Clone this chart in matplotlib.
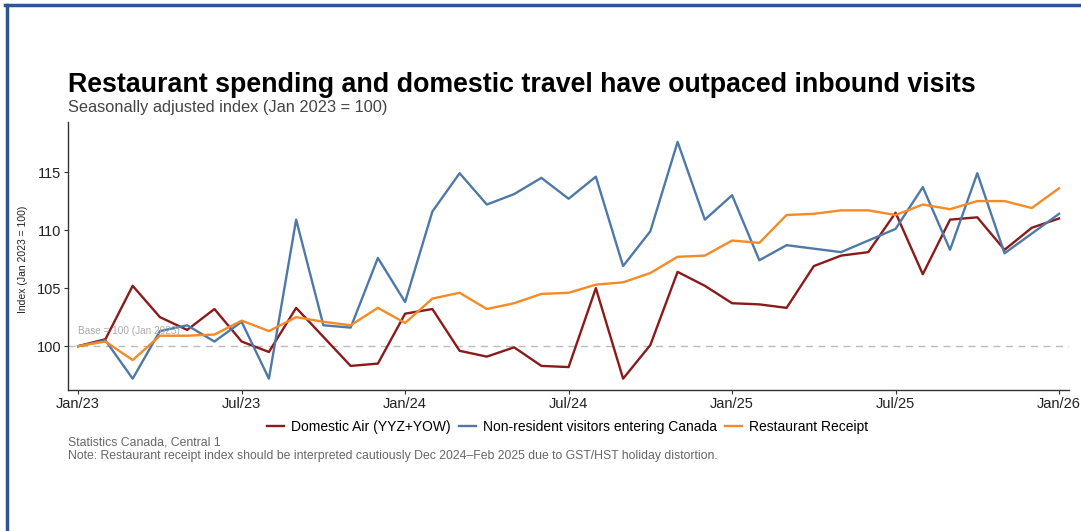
import numpy as np
import pandas as pd
import matplotlib
matplotlib.use("Agg")
import matplotlib.pyplot as plt
from matplotlib.lines import Line2D

plt.rcParams['font.family'] = ['Liberation Sans', 'DejaVu Sans']

# monthly, Jan 2023 .. Jan 2026
months = pd.date_range("2023-01-01", "2026-01-01", freq="MS")

domestic_air = [100.0, 100.6, 105.2, 102.5, 101.4, 103.2, 100.4, 99.5, 103.3, 100.8, 98.3, 98.5,
                102.8, 103.2, 99.6, 99.1, 99.9, 98.3, 98.2, 105.0, 97.2, 100.1, 106.4, 105.2,
                103.7, 103.6, 103.3, 106.9, 107.8, 108.1, 111.5, 106.2, 110.9, 111.1, 108.3, 110.2,
                111.0]
non_resident = [100.0, 100.5, 97.2, 101.3, 101.8, 100.4, 102.1, 97.2, 110.9, 101.8, 101.6, 107.6,
                103.8, 111.6, 114.9, 112.2, 113.1, 114.5, 112.7, 114.6, 106.9, 109.9, 117.6, 110.9,
                113.0, 107.4, 108.7, 108.4, 108.1, 109.1, 110.1, 113.7, 108.3, 114.9, 108.0, 109.7,
                111.4]
restaurant = [100.0, 100.4, 98.8, 100.9, 100.9, 101.0, 102.2, 101.3, 102.5, 102.1, 101.8, 103.3,
              102.0, 104.1, 104.6, 103.2, 103.7, 104.5, 104.6, 105.3, 105.5, 106.3, 107.7, 107.8,
              109.1, 108.9, 111.3, 111.4, 111.7, 111.7, 111.3, 112.2, 111.8, 112.5, 112.5, 111.9,
              113.6]

series_names = ["Domestic Air (YYZ+YOW)", "Non-resident visitors entering Canada", "Restaurant Receipt"]
series_colors = ["#8B1A1A", "#4E79A7", "#F58A26"]

y_ticks = [100, 105, 110, 115]
x_tick_idx = [0, 6, 12, 18, 24, 30, 36]

fig = plt.figure(figsize=(10.81, 5.31), dpi=100)
ax = fig.add_axes([0.063, 0.265, 0.926, 0.505])

x = np.arange(len(months))
for vals, name, col in zip([domestic_air, non_resident, restaurant], series_names, series_colors):
    ax.plot(x, vals, color=col, lw=1.7, label=name)

ax.axhline(100, color="#BBBBBB", lw=1, ls=(0, (5, 4)), zorder=0)
ax.text(0, 100.9, "Base = 100 (Jan 2023)", color="#AAAAAA", fontsize=7.2, ha="left", va="bottom")

ax.set_xlim(-0.37, 36.37)
ax.set_ylim(96.2, 119.3)
ax.set_yticks(y_ticks)
ax.set_xticks(x_tick_idx)
ax.set_xticklabels([months[i].strftime("%b/%y") for i in x_tick_idx])
ax.tick_params(axis="both", labelsize=10.5, colors="#333333", length=3, width=0.8, pad=2)
for lbl in ax.get_xticklabels() + ax.get_yticklabels():
    lbl.set_color("#222222")
ax.set_ylabel("Index (Jan 2023 = 100)", fontsize=7.5, color="#222222")
ax.yaxis.set_label_coords(-0.04, 0.49)
for s in ["top", "right"]:
    ax.spines[s].set_visible(False)
for s in ["left", "bottom"]:
    ax.spines[s].set_color("#333333")
    ax.spines[s].set_linewidth(1.0)

fig.text(0.063, 0.827, "Restaurant spending and domestic travel have outpaced inbound visits",
         fontsize=19.3, fontweight="bold", color="black", va="baseline")
fig.text(0.063, 0.789, "Seasonally adjusted index (Jan 2023 = 100)", fontsize=11.8,
         color="#444444", va="baseline")

handles = [Line2D([0], [0], color=c, lw=1.7) for c in series_colors]
fig.legend(handles, series_names, loc="center", bbox_to_anchor=(0.525, 0.196), ncol=3,
           frameon=False, fontsize=10, handlelength=1.2, handletextpad=0.5, columnspacing=0.6)

fig.text(0.063, 0.161, "Statistics Canada, Central 1", fontsize=8.8, color="#666666", va="baseline")
fig.text(0.063, 0.135, "Note: Restaurant receipt index should be interpreted cautiously Dec 2024\u2013Feb 2025 due to GST/HST holiday distortion.",
         fontsize=8.8, color="#666666", va="baseline")

# frame lines seen on the left and top of the screenshot
fig.add_artist(Line2D([0.0065, 0.0065], [0, 0.99], color="#2F5592", lw=2.5, transform=fig.transFigure))
fig.add_artist(Line2D([0.005, 1.0], [0.99, 0.99], color="#2F5592", lw=2.5, transform=fig.transFigure))

fig.savefig("out.png", dpi=100)
